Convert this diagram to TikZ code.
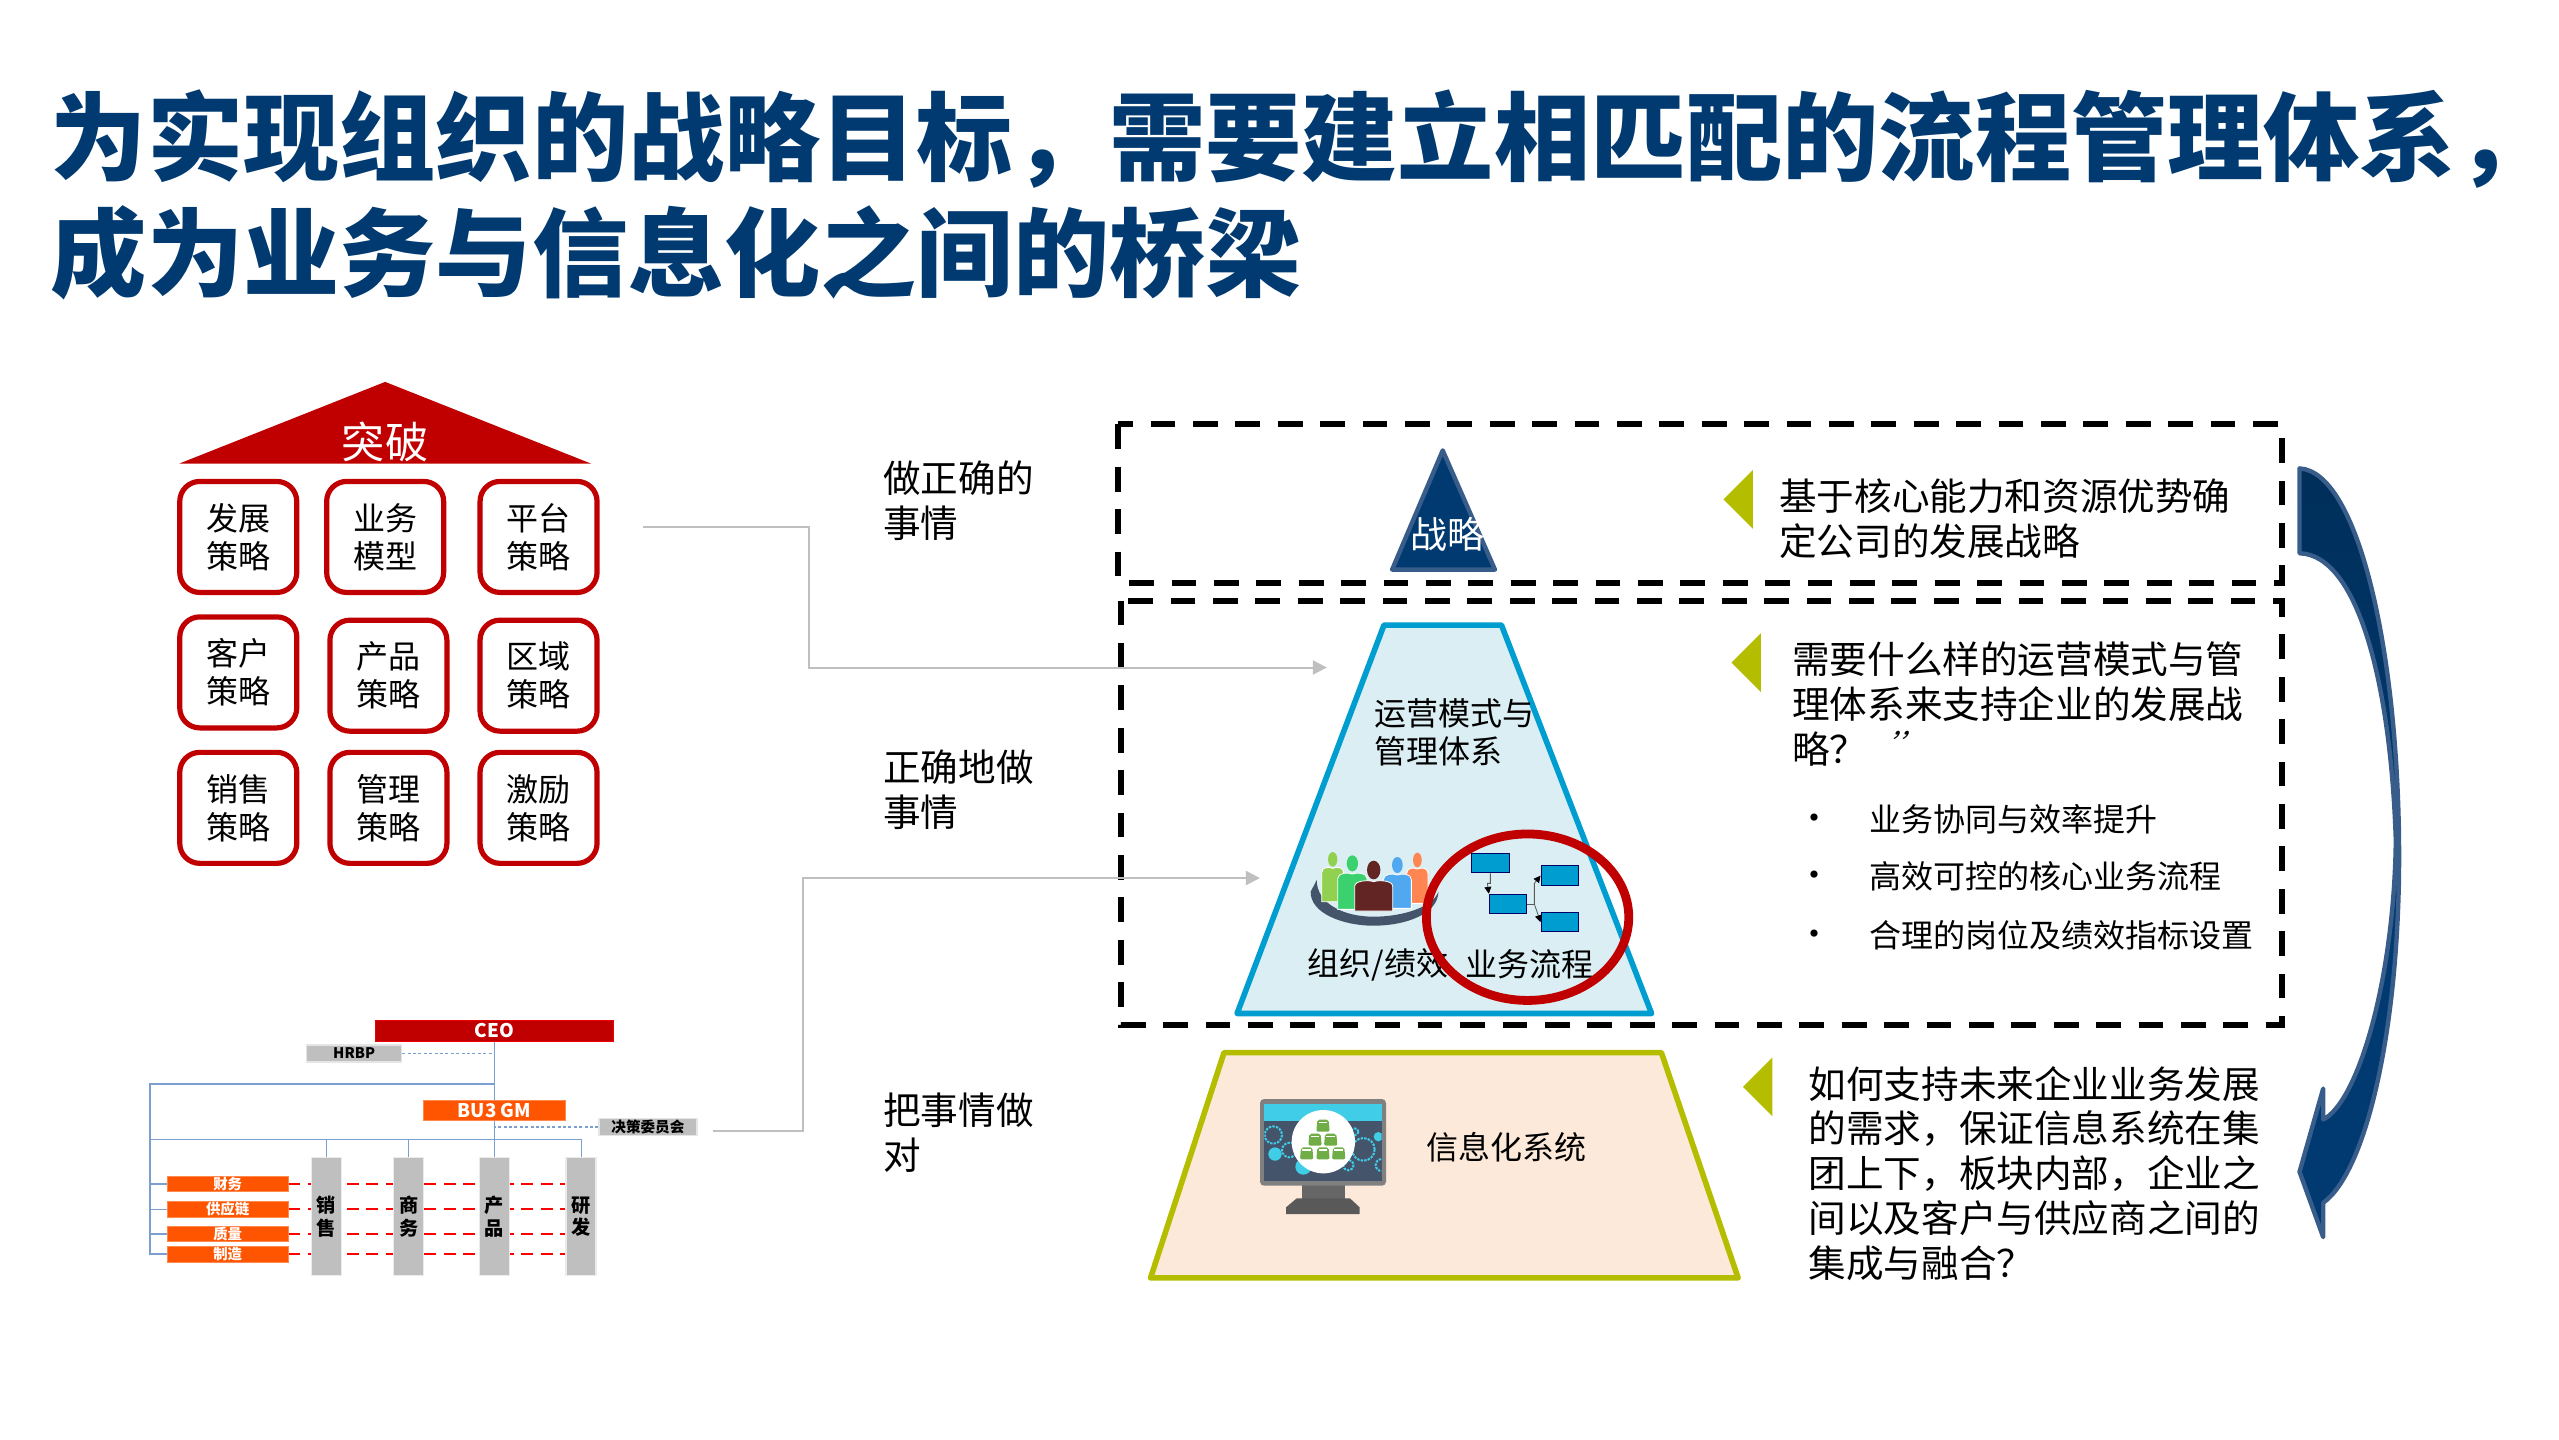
\documentclass[tikz,border=0pt]{standalone}
\usepackage{fontspec}
\setmainfont{Noto Sans CJK SC}
\usetikzlibrary{arrows.meta}
\usetikzlibrary{backgrounds}
\usetikzlibrary{positioning}
\definecolor{titleblue}{HTML}{003A70}
\definecolor{roofred}{HTML}{C00000}
\definecolor{edgeblue}{HTML}{385D8A}
\definecolor{midblue}{HTML}{009DD1}
\definecolor{midfill}{HTML}{DAEEF3}
\definecolor{olive}{HTML}{B5BD00}
\definecolor{peach}{HTML}{FDE9D9}
\definecolor{linkgrey}{HTML}{BFBFBF}
\definecolor{orgorange}{HTML}{FF5500}
\definecolor{orgblue}{HTML}{7BA0CF}
\definecolor{slate}{HTML}{44546A}
\definecolor{gearcyan}{HTML}{3FCDE8}
\definecolor{weightgreen}{HTML}{70AD47}
\definecolor{personlime}{HTML}{92D050}
\definecolor{personmint}{HTML}{3BD16F}
\definecolor{personbrown}{HTML}{632523}
\definecolor{personsky}{HTML}{4FA8F0}
\definecolor{personcoral}{HTML}{FF8552}
\newcommand{\fsz}[2]{\fontsize{#1}{#2}\selectfont}
% one figure of the group: colour, x, head y, head radii, half width, shoulder y, foot y
\newcommand{\drawperson}[8]{
    \fill[#1] (#2,#3) ellipse (#4 and #5);
    \draw[fill=#1, draw=white, line width=0.4pt] (#2-#6,#8) -- (#2-#6,#7+24)
        .. controls (#2-#6,#7+5) and (#2-12,#7+5) .. (#2,#7+10)
        .. controls (#2+12,#7+5) and (#2+#6,#7+5) .. (#2+#6,#7+24) -- (#2+#6,#8) -- cycle;
}
\tikzset{
    textnode/.style={inner sep=0pt, align=left, anchor=west, font=\fsz{18.8}{22.4}},
    smalltext/.style={inner sep=0pt, align=left, anchor=west, font=\fsz{16}{19}},
    stratbox/.style={draw=roofred, line width=2.6pt, rounded corners=10pt, minimum width=58.5pt,
        minimum height=55.5pt, inner sep=0pt, align=center, font=\fsz{16}{19}},
    orgred/.style={fill=roofred, draw=red!70!roofred, line width=0.4pt, minimum width=119pt, minimum height=10.6pt,
        inner sep=0pt, text=white, font=\fsz{9.4}{10}\bfseries},
    orggrey/.style={fill=linkgrey, draw=black!10, line width=0.6pt, minimum height=8.5pt, inner sep=0pt,
        font=\fsz{7.3}{8}\bfseries},
    orgfunc/.style={fill=orgorange, draw=orgorange!70, line width=0.4pt, minimum width=60.5pt, minimum height=7.8pt,
        inner sep=0pt, text=white, font=\fsz{7.2}{7.5}\bfseries},
    orgcol/.style={fill=linkgrey, draw=black!8, line width=0.6pt, minimum width=15pt, minimum height=59pt,
        inner sep=0pt, align=center, font=\fsz{9.6}{11.4}\bfseries},
    orgline/.style={draw=orgblue, line width=0.5pt},
    orgrail/.style={draw=orgblue, line width=1.1pt},
    orgdots/.style={draw=orgblue, line width=0.7pt, dash pattern=on 1.5pt off 1.2pt},
    orgdash/.style={draw=red, line width=1.1pt, dash pattern=on 5.9pt off 3.8pt},
    linkline/.style={draw=linkgrey, line width=1pt, -{Triangle[length=7pt,width=7pt]}},
    blackdash/.style={draw=black, line width=3pt, dash pattern=on 12.4pt off 8.8pt},
    cue/.style={fill=olive},
    flowbox/.style={fill=midblue, draw=blue!40!black, line width=0.5pt, minimum width=18.7pt, minimum height=9.8pt, inner sep=0pt},
    flowline/.style={draw=black!65, line width=0.4pt, -{Triangle[length=3.4pt,width=3.4pt,black]}},
    gear/.style={draw=gearcyan, dash pattern=on 1.2pt off 0.6pt}
}
\begin{document}
\begin{tikzpicture}[x=0.816pt, y=-0.816pt]
    \useasboundingbox (0,0) rectangle (1568,882);

    % Title
    \node[inner sep=0pt, anchor=west, align=left, text=titleblue, font=\fsz{48.1}{58}\bfseries] (title) at (31,119.5)
        {为实现组织的战略目标，需要建立相匹配的流程管理体系，\\成为业务与信息化之间的桥梁};

    % Roof and strategy boxes
    \fill[roofred] (110,284) -- (236,234) -- (362,284) -- cycle;
    \node[inner sep=0pt, text=white, font=\fsz{21.6}{24}] (roof) at (236,271) {突破};
    \foreach \xpos/\ypos/\boxname/\boxtext in {
        146/329/devstrat/发展\\策略, 236/329/bizmodel/业务\\模型, 330/329/platstrat/平台\\策略,
        146/412/custstrat/客户\\策略, 238/414/prodstrat/产品\\策略, 330/414/areastrat/区域\\策略,
        146/495/salestrat/销售\\策略, 238/495/mgmtstrat/管理\\策略, 330/495/rewardstrat/激励\\策略} {
        \node[stratbox] (\boxname) at (\xpos,\ypos) {\boxtext};
    }

    % Left column of questions
    \node[textnode] (doright) at (541,307) {做正确的\\事情};
    \node[textnode] (doingright) at (541,484) {正确地做\\事情};
    \node[textnode] (dowell) at (541,694) {把事情做\\对};

    % Organisation chart
    \node[orgred] (ceo) at (303,631.5) {CEO};
    \node[orggrey, minimum width=47.5pt] (hrbp) at (217,645.5) {HRBP};
    \node[orgfunc, fill=orgorange, minimum width=71pt, minimum height=9.8pt, font=\fsz{9.4}{10}\bfseries] (bugm) at (303,680.5) {BU3 GM};
    \node[orggrey, minimum width=49pt] (committee) at (397,690.5) {决策委员会};
    \node[orgcol] (colsale) at (200,745.5) {销\\售};
    \node[orgcol] (colbiz) at (250.5,745.5) {商\\务};
    \node[orgcol] (colprod) at (303,745.5) {产\\品};
    \node[orgcol] (colrd) at (356,745.5) {研\\发};
    \node[orgfunc] (opfin) at (139.5,725.5) {财务};
    \node[orgfunc] (opsupply) at (139.5,741) {供应链};
    \node[orgfunc] (opquality) at (139.5,756) {质量};
    \node[orgfunc] (opmake) at (139.5,768.5) {制造};
    \coordinate (railtop) at (303,664);
    \coordinate (railleft) at (92,664);
    \coordinate (busleft) at (92,698);
    \begin{scope}[on background layer]
        \draw[orgline] (ceo.south) -- (bugm.north);
        \draw[orgline] (bugm.south) -- (colprod.north);
        \draw[orgrail] (railtop) -- (railleft) -- (railleft |- opmake.west) -- (opmake.west);
        \draw[orgline] (busleft) -- (busleft -| colrd.north) -- (colrd.north);
        \draw[orgline] (busleft -| colsale.north) -- (colsale.north);
        \draw[orgline] (busleft -| colbiz.north) -- (colbiz.north);
        \draw[orgdots] (hrbp.east) -- (hrbp.east -| ceo.south);
        \draw[orgdots] (committee.west) -- (committee.west -| bugm.south);
        \foreach \funcname in {opfin, opsupply, opquality} {
            \draw[orgline, line width=0.8pt] (railleft |- \funcname.west) -- (\funcname.west);
        }
        \foreach \funcname in {opfin, opsupply, opquality, opmake} {
            \draw[orgdash] (\funcname.east) -- (\funcname.east -| colrd.west);
        }
    \end{scope}

    % Dashed frames
    \draw[blackdash] (685,260) rectangle (1398,357);
    \draw[blackdash] (687,368) rectangle (1398,628);

    % Pyramid
    \coordinate (stratin) at (813,409);
    \coordinate (orgin) at (772,538);
    \draw[fill=titleblue, draw=edgeblue, line width=2.2pt, line join=round] (884,276) -- (853,349) -- (916,349) -- cycle;
    \node[inner sep=0pt, text=white, font=\fsz{18.5}{20}] (stratlabel) at (887,327.5) {战略};
    \draw[fill=midfill, draw=midblue, line width=2.8pt, line join=round] (848,383) -- (920,383) -- (1012,621) -- (758,621) -- cycle;
    \node[smalltext] (opmodel) at (842,449) {运营模式与\\管理体系};
    \draw[fill=peach, draw=olive, line width=2.8pt, line join=round] (750,645) -- (1018,645) -- (1065,783) -- (705,783) -- cycle;
    \node[smalltext] (infosys) at (874,703) {信息化系统};

    % Links from the left side
    \coordinate (stratout) at (394,323);
    \coordinate (orgout) at (437,693);
    \draw[linkline] (stratout) -- ++(102,0) |- (stratin);
    \draw[linkline] (orgout) -- ++(55,0) |- (orgin);

    % People and flow chart
    \begin{scope}[shift={(735.3,490.2)}, x=0.16667pt, y=-0.16667pt]
        \fill[slate] (332,275) .. controls (330,340) and (430,377) .. (520,377)
            .. controls (620,377) and (715,340) .. (715,275)
            .. controls (700,320) and (610,350) .. (520,350)
            .. controls (430,350) and (350,310) .. (350,240) -- cycle;
        \drawperson{personlime}{398}{178}{14}{22}{33}{195}{305}
        \drawperson{personcoral}{652}{180}{13}{22}{32}{197}{310}
        \drawperson{personmint}{457}{190}{17}{24}{44}{212}{328}
        \drawperson{personsky}{592}{195}{16}{24}{42}{215}{325}
        \drawperson{personbrown}{521}{210}{20}{28}{57}{235}{333}
        \node[flowbox] (flowtop) at (871,189) {};
        \node[flowbox] (flowmid) at (924,312) {};
        \node[flowbox] (flowup) at (1079,227) {};
        \node[flowbox] (flowdown) at (1079,366) {};
        \coordinate (flowfork) at (1003,312);
        \draw[flowline] (flowtop.south) -- (871,250) -- (862,250) -- (flowmid.north west);
        \draw[draw=black!65, line width=0.4pt] (flowmid.east) -- (flowfork);
        \draw[flowline] (flowfork) -- (1003,250) -- (flowup.west);
        \draw[flowline] (flowfork) -- (flowdown.west);
    \end{scope}
    \node[inner sep=0pt, anchor=west, font=\fsz{16}{19}] (orglabel) at (801,591) {组织/绩效};
    \node[inner sep=0pt, anchor=west, font=\fsz{16}{19}] (flowlabel) at (898,591) {业务流程};
    \draw[roofred, line width=4.4pt] (936,562) ellipse (62 and 51);

    % Monitor
    \begin{scope}[shift={(759.8,667.9)}, x=0.16667pt, y=-0.16667pt]
        \fill[black!60] (185,280) rectangle (314,342);
        \fill[black!65] (138,352) -- (170,325) -- (330,325) -- (359,352) -- (359,372) -- (138,372) -- cycle;
        \fill[black!50, rounded corners=2pt] (60,27) rectangle (438,287);
        \fill[slate] (73,41) rectangle (425,272);
        \begin{scope}
            \clip (73,41) rectangle (425,272);
            \foreach \gx/\gy/\gr in {100/135/26, 370/178/34, 148/180/22, 325/225/16, 425/225/18, 345/125/10} {
                \draw[gear, line width=1pt] (\gx,\gy) circle (\gr);
            }
            \fill[gearcyan] (105,192) circle (20);
            \fill[gearcyan] (190,230) circle (24);
            \fill[gearcyan] (415,140) circle (14);
        \end{scope}
        \fill[gearcyan] (73,41) rectangle (425,92);
        \fill[white] (250,155) circle (95);
        \foreach \wx/\wy in {249/107, 225/149, 272/149, 200/190, 249/190, 296/190} {
            \fill[weightgreen, rounded corners=1pt] (\wx-20,\wy+18) -- (\wx-17,\wy-18) -- (\wx+17,\wy-18) -- (\wx+20,\wy+18) -- cycle;
            \fill[white] (\wx-13,\wy-12) rectangle (\wx+13,\wy-7);
        }
    \end{scope}

    % Cues and texts on the right
    \fill[cue] (1056,306) -- (1074,288) -- (1074,324) -- cycle;
    \fill[cue] (1061,406) -- (1079,388) -- (1079,424) -- cycle;
    \fill[cue] (1068,666) -- (1086,648) -- (1086,684) -- cycle;
    \node[textnode] (whystrat) at (1090,318) {基于核心能力和资源优势确\\定公司的发展战略};
    \node[textnode] (whatmode) at (1098,431.5) {需要什么样的运营模式与管\\理体系来支持企业的发展战\\略？};
    \node[inner sep=0pt, font=\fsz{15}{16}\addfontfeatures{FakeSlant=0.35}] (quotes) at (1168,456) {\makebox[4.5pt][c]{\char"0027}\makebox[4.5pt][c]{\char"0027}};
    \foreach \ypos/\bname/\btext in {502/firstbullet/业务协同与效率提升, 537/secondbullet/高效可控的核心业务流程, 573/thirdbullet/合理的岗位及绩效指标设置} {
        \node[smalltext] (\bname) at (1145,\ypos) {\btext};
        \node[inner sep=0pt, font=\fsz{17}{18}] (\bname dot) at (1111.5,\ypos+2) {•};
    }
    \node[textnode] (howinfo) at (1108,719) {如何支持未来企业业务发展\\的需求，保证信息系统在集\\团上下，板块内部，企业之\\间以及客户与供应商之间的\\集成与融合？};

    % Curved arrow
    \draw[top color=black!20!titleblue, bottom color=titleblue, middle color=titleblue, draw=edgeblue, line width=2.2pt, line join=round]
        (1409,287) .. controls (1445,289) and (1470,400) .. (1470,525)
        .. controls (1470,630) and (1450,718) .. (1423.5,737)
        -- (1423.5,758) -- (1409,718) -- (1423.5,667) -- (1423.5,686)
        .. controls (1445,675) and (1467,600) .. (1468,515)
        .. controls (1465,420) and (1445,340) .. (1409,339) -- cycle;
\end{tikzpicture}
\end{document}
